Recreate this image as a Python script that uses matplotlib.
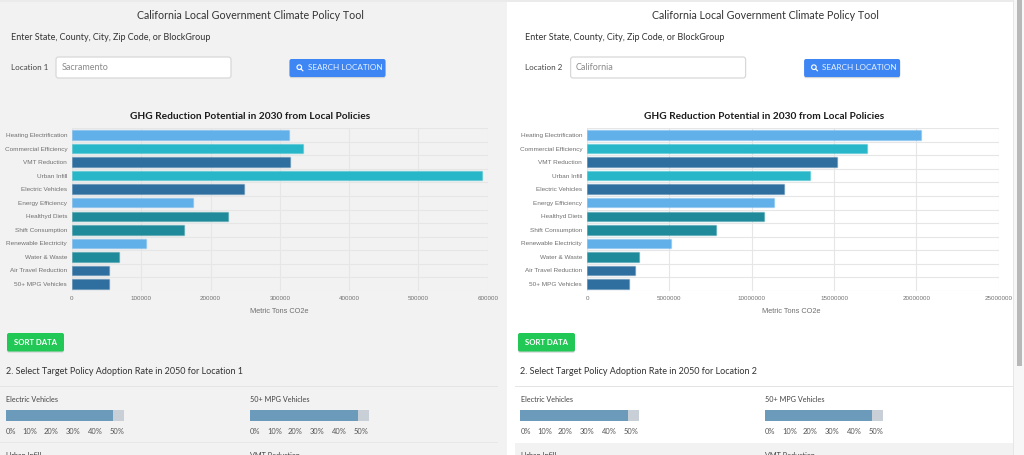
import matplotlib
matplotlib.use("Agg")
import matplotlib.pyplot as plt
from matplotlib.patches import Rectangle, FancyBboxPatch, Circle

categories = ["Heating Electrification", "Commercial Efficiency", "VMT Reduction", "Urban Infill",
              "Electric Vehicles", "Energy Efficiency", "Healthyd Diets", "Shift Consumption",
              "Renewable Electricity", "Water & Waste", "Air Travel Reduction", "50+ MPG Vehicles"]
location1 = [313000, 333000, 315000, 592000, 248000, 175000, 225000, 161000, 107000, 68000, 53000, 53500]
location2 = [20300000, 17000000, 15170000, 13550000, 11970000, 11330000, 10750000, 7810000, 5120000, 3180000, 2930000, 2570000]
bar_colors = ["#62b0ea", "#27b7c9", "#2f6f9f", "#27b7c9", "#2f6f9f", "#62b0ea",
              "#1e8a9a", "#1e8a9a", "#62b0ea", "#1e8a9a", "#2f6f9f", "#2f6f9f"]
ticks1 = [0, 100000, 200000, 300000, 400000, 500000, 600000]
ticks2 = [0, 5000000, 10000000, 15000000, 20000000, 25000000]
slider_names = ["Electric Vehicles", "50+ MPG Vehicles"]
slider_values = [45.4, 45.4]
slider_labels = ["0%", "10%", "20%", "30%", "40%", "50%"]
next_row_names = ["Urban Infill", "VMT Reduction"]

W, H = 1024, 455
UI = "Lato"
CH = "Liberation Sans"
fig = plt.figure(figsize=(W / 100, H / 100), dpi=100, facecolor="white")

bg = fig.add_axes([0, 0, 1, 1], zorder=0)
bg.set_xlim(0, W)
bg.set_ylim(H, 0)
bg.axis("off")


def rect(x, y, w, h, c, z=1):
    bg.add_patch(Rectangle((x, y), w, h, fc=c, ec="none", zorder=z))


def button(x, y, w, h, c):
    bg.add_patch(FancyBboxPatch((x, y + 1.2), w, h, boxstyle="round,pad=0,rounding_size=2",
                                fc="#d2d5d8", ec="none", zorder=2))
    bg.add_patch(FancyBboxPatch((x, y), w, h, boxstyle="round,pad=0,rounding_size=2",
                                fc=c, ec="none", zorder=3))


rect(0, 0, 507, H, "#f2f2f2")
rect(0, 0, W, 1.5, "#ebebeb", 2)
rect(515, 442.7, 498, 12.3, "#f2f2f2")
rect(1013, 0, 11, H, "#f7f7f7", 2)
rect(1013, 0, 1, H, "#e6e6e6", 3)
rect(1016.5, 0, 5.5, 366, "#b8b8b8", 3)


def panel(ox, n, place, sort_x, sec_x, rule_x0, rule_x1):
    bg.text(ox + 250.5, 15.5, "California Local Government Climate Policy Tool", family=UI,
            fontsize=7.65, color="#333333", ha="center", va="center", zorder=5)
    bg.text(ox + 10.7, 37.5, "Enter State, County, City, Zip Code, or BlockGroup", family=UI,
            fontsize=6.45, color="#333333", va="center", zorder=5)
    bg.text(ox + 10.7, 67.5, f"Location {n}", family=UI, fontsize=5.8, color="#444444", va="center", zorder=5)
    bg.add_patch(FancyBboxPatch((ox + 56, 57), 175, 21, boxstyle="round,pad=0,rounding_size=2.5",
                                fc="white", ec="#d8d8d8", lw=0.9, zorder=3))
    bg.text(ox + 61.5, 67.5, place, family=UI, fontsize=6.5, color="#8a8a8a", va="center", zorder=5)
    sx = ox + 289.5
    button(sx, 59, 96, 18, "#3f86f5")
    bg.add_patch(Circle((sx + 9.8, 67.2), 2.3, fc="none", ec="white", lw=0.8, zorder=5))
    bg.plot([sx + 11.5, sx + 13.4], [68.9, 70.8], color="white", lw=0.8, zorder=5)
    bg.text(sx + 55.5, 67.5, "SEARCH LOCATION", family=UI, fontsize=5.9, color="#eaf2ff",
            ha="center", va="center", zorder=5)
    button(sort_x, 333, 57, 18.5, "#22c855")
    bg.text(sort_x + 28.5, 342.3, "SORT DATA", family=UI, fontsize=5.6, color="white", weight="bold",
            ha="center", va="center", zorder=5)
    bg.text(sec_x, 371.5, f"2. Select Target Policy Adoption Rate in 2050 for Location {n}", family=UI,
            fontsize=6.47, color="#333333", va="center", zorder=5)
    rect(rule_x0, 385.8, rule_x1 - rule_x0, 0.8, "#e4e4e4", 2)
    bg.text(ox + 250, 116.5, "GHG Reduction Potential in 2030 from Local Policies", family=UI,
            fontsize=7.3, weight="bold", color="#1c1c1c", ha="center", va="center", zorder=5)


panel(0, 1, "Sacramento", 7, 5.7, 0, 498)
panel(514.6, 2, "California", 518, 520, 515, 1013)
rect(0, 442, 498, 0.8, "#e8e8e8", 2)


def chart(x0, x1, values, ticks, label_cx):
    top, bottom = 128.3, 290.7
    ax = fig.add_axes([x0 / W, 1 - bottom / H, (x1 - x0) / W, (bottom - top) / H], zorder=2)
    ax.patch.set_alpha(0)
    y = list(range(len(categories)))
    ax.barh(y, values, height=0.7, color=bar_colors, edgecolor=[c + "55" for c in bar_colors],
            linewidth=1, zorder=3)
    ax.set_ylim(len(categories) - 0.5, -0.5)
    ax.set_xlim(ticks[0], ticks[-1])
    ax.set_yticks(y)
    ax.set_yticklabels(categories, family=CH, fontsize=4.6, color="#707070")
    ax.set_xticks(ticks)
    ax.set_xticklabels([str(t) for t in ticks], family=CH, fontsize=4.5, color="#707070")
    ax.set_yticks([i - 0.5 for i in range(len(categories) + 1)], minor=True)
    ax.grid(True, axis="x", color="#e6e6e6", lw=0.8, zorder=0)
    ax.grid(True, axis="y", which="minor", color="#e6e6e6", lw=0.8, zorder=0)
    ax.grid(False, axis="y", which="major")
    ax.tick_params(axis="both", which="both", length=0)
    ax.tick_params(axis="x", pad=4)
    ax.tick_params(axis="y", pad=3.5)
    for s in ax.spines.values():
        s.set_visible(False)
    bg.text(label_cx, 311.7, "Metric Tons CO2e", family=CH, fontsize=5.3, color="#707070",
            ha="center", va="center", zorder=5)


chart(72, 487.7, location1, ticks1, 279.5)
chart(587, 998.7, location2, ticks2, 791.5)


def slider(x, name, value):
    bg.text(x + 0.3, 400, name, family=UI, fontsize=5.2, color="#444444", va="center", zorder=5)
    ax = fig.add_axes([x / W, 1 - 421.3 / H, 118.3 / W, 11 / H], zorder=2)
    ax.set_xlim(0, 50)
    ax.set_ylim(0, 1)
    ax.set_facecolor("#c9cfd6")
    ax.barh([0.5], [value], height=1, color="#6b9abb", zorder=2)
    ax.set_yticks([])
    ax.set_xticks([2.2, 10.3, 19.1, 28.4, 37.7, 47.0])
    ax.set_xticklabels(slider_labels, family=UI, fontsize=5.4, color="#555555")
    ax.tick_params(axis="x", length=0, pad=5)
    for s in ax.spines.values():
        s.set_visible(False)


for x, name, value in zip([5.7, 250.2], slider_names, slider_values):
    slider(x, name, value)
for x, name, value in zip([520.3, 765], slider_names, slider_values):
    slider(x, name, value)
for x, name in zip([6, 250.5, 520.6, 765.3], next_row_names * 2):
    bg.text(x, 456, name, family=UI, fontsize=5.2, color="#444444", va="center", zorder=5, clip_on=True)

fig.savefig("out.png", dpi=100, facecolor="white")
